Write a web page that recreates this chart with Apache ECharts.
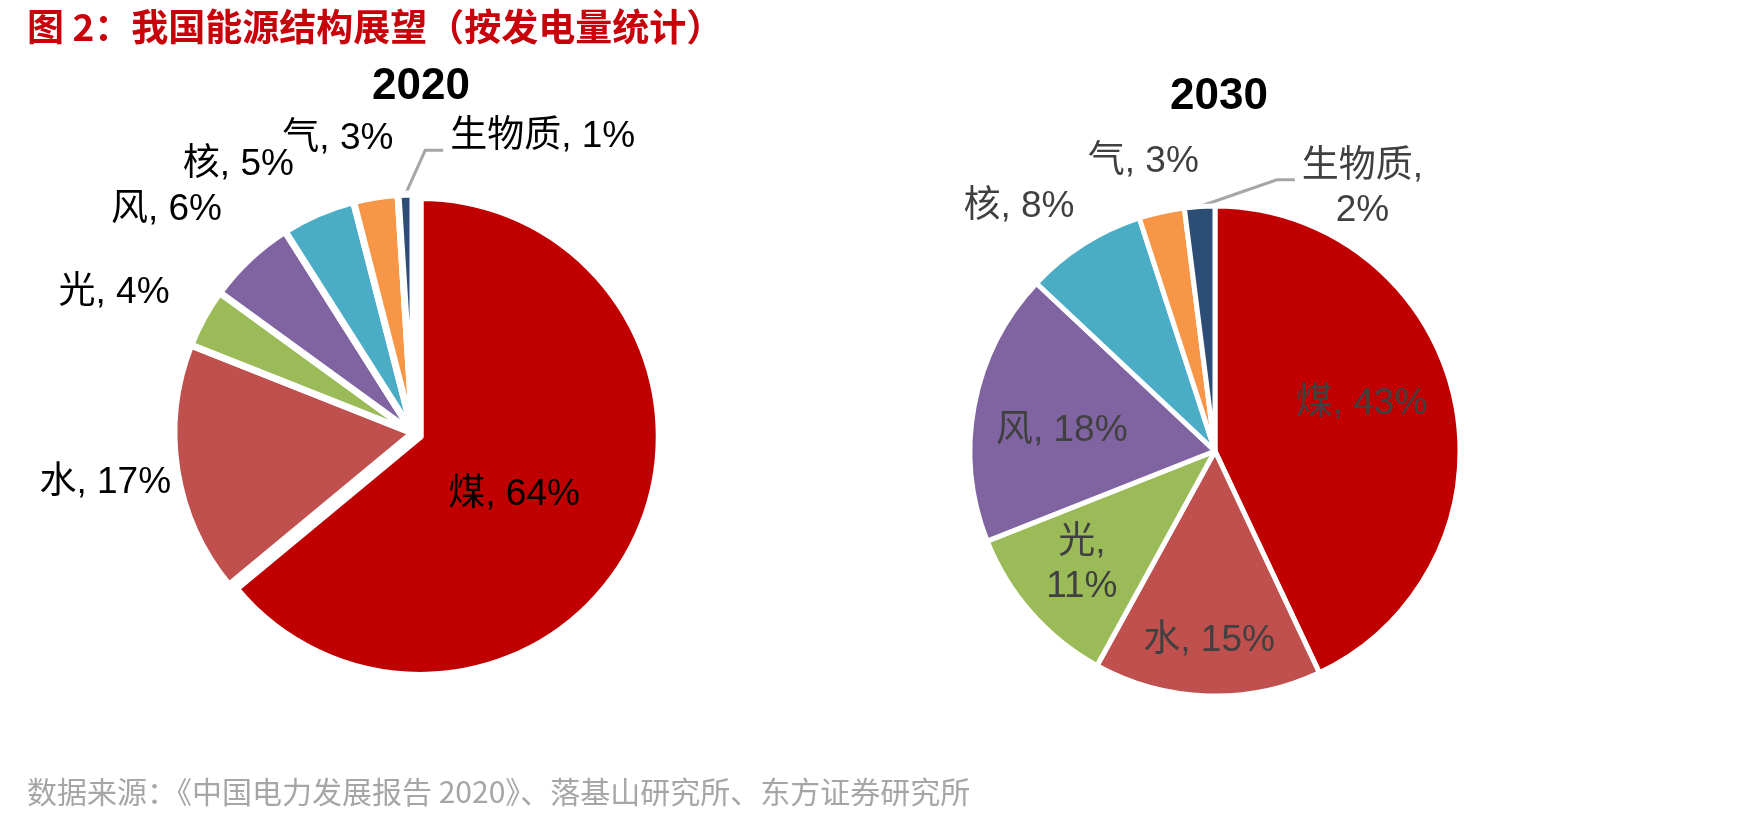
<!DOCTYPE html>
<html>
<head>
<meta charset="utf-8">
<script src="https://cdn.jsdelivr.net/npm/echarts@6/dist/echarts.min.js"></script>
<style>
  html, body { margin: 0; padding: 0; background: #fff; }
  #chart { width: 1747px; height: 819px; }
</style>
</head>
<body>
<div id="chart"></div>
<script>
// data
const sources = ['煤', '水', '光', '风', '核', '气', '生物质'];
const share2020 = [64, 17, 4, 6, 5, 3, 1];
const share2030 = [43, 15, 11, 18, 8, 3, 2];
const colors = ['#C00000', '#C0504D', '#9BBB59', '#8064A2', '#4BACC6', '#F79646', '#2C4D75'];

const FONT = '"Liberation Sans", Arial, "Noto Sans CJK SC", sans-serif';
const CJK = '"Noto Sans CJK SC", sans-serif';
const LINE_H = 44;

// which labels sit inside the slice, and which are wrapped on two lines
const inside2020 = ['煤'];
const inside2030 = ['煤', '水', '光', '风'];
const wrap2030 = ['光', '生物质'];

// label nudges from the default spot, [dx, dy]
const nudge2020 = { '煤': [-17, 6], '水': [7, 11], '光': [-22, -21], '风': [-17, -43], '核': [-16, -42], '气': [24, -50], '生物质': [256, -17] };
const nudge2030 = { '煤': [24, -20], '水': [-2, 64], '光': [-39, 31], '风': [-30, 3], '核': [0, -31], '气': [44, -42], '生物质': [251, 22] };

const chart = echarts.init(document.getElementById('chart'));

function pieSeries(values, opts) {
  const { center, radius, insideNames, wrapNames, textColor, explode, nudge, gap } = opts;
  return {
    type: 'pie',
    center: center,
    radius: radius,
    startAngle: 90,
    clockwise: true,
    avoidLabelOverlap: false,
    selectedMode: explode ? 'single' : false,
    selectedOffset: 8,
    animation: false,
    itemStyle: { borderColor: '#fff', borderWidth: gap },
    emphasis: { disabled: true },
    labelLine: { show: false, length: 8, length2: 0 },
    label: {
      show: true,
      position: 'outside',
      color: textColor,
      fontFamily: FONT,
      fontSize: 37,
      lineHeight: LINE_H,
      align: 'center',
      formatter: p => p.name + (wrapNames.includes(p.name) ? ',\n' : ', ') + p.value + '%'
    },
    labelLayout: p => {
      const name = sources[p.dataIndex];
      const n = nudge[name] || [0, 0];
      const r = p.labelRect;
      if (name === '生物质') {
        const cx = r.x + r.width / 2 + n[0];
        const cy = r.y + r.height / 2 + n[1];
        // leader line: from the slice edge up to the bottom-left of the first text line
        const endX = cx - r.width / 2 - 7;
        const endY = cy - r.height / 2 + LINE_H * 0.8;
        const start = p.labelLinePoints ? p.labelLinePoints[0] : [endX - 40, endY + 35];
        return {
          hideOverlap: false, align: 'center', verticalAlign: 'middle',
          x: cx, y: cy,
          labelLinePoints: [start, [endX - 18, endY], [endX, endY]]
        };
      }
      return { hideOverlap: false, dx: n[0], dy: n[1] };
    },
    data: sources.map((name, i) => {
      const item = {
        name: name,
        value: values[i],
        itemStyle: { color: colors[i] }
      };
      if (explode && i === 0) item.selected = true;
      if (insideNames.includes(name)) {
        item.label = { position: 'inside' };
      }
      if (name === '生物质') {
        item.labelLine = { show: true, length: 40, length2: 20, lineStyle: { color: '#A6A6A6', width: 3 } };
      }
      return item;
    })
  };
}

const option = {
  backgroundColor: '#fff',
  title: [
    {
      text: '图 2：我国能源结构展望（按发电量统计）',
      left: 22, top: 3,
      textStyle: { color: '#C8000A', fontSize: 37, fontWeight: 'bold', fontFamily: CJK }
    },
    {
      text: '2020', left: 416, top: 60, textAlign: 'center',
      textStyle: { color: '#000', fontSize: 44, fontWeight: 'bold', fontFamily: FONT }
    },
    {
      text: '2030', left: 1214, top: 70, textAlign: 'center',
      textStyle: { color: '#000', fontSize: 44, fontWeight: 'bold', fontFamily: FONT }
    },
    {
      text: '数据来源：《中国电力发展报告 2020》、落基山研究所、东方证券研究所',
      left: 22, top: 772,
      textStyle: { color: '#A6A6A6', fontSize: 30, fontWeight: 'normal', fontFamily: CJK }
    }
  ],
  series: [
    pieSeries(share2020, {
      center: [413, 433], radius: '239',
      insideNames: inside2020, wrapNames: [], textColor: '#000', explode: true, nudge: nudge2020, gap: 7
    }),
    pieSeries(share2030, {
      center: [1215, 451], radius: '245',
      insideNames: inside2030, wrapNames: wrap2030, textColor: '#404040', explode: false, nudge: nudge2030, gap: 5
    })
  ]
};

chart.setOption(option);
</script>
</body>
</html>
